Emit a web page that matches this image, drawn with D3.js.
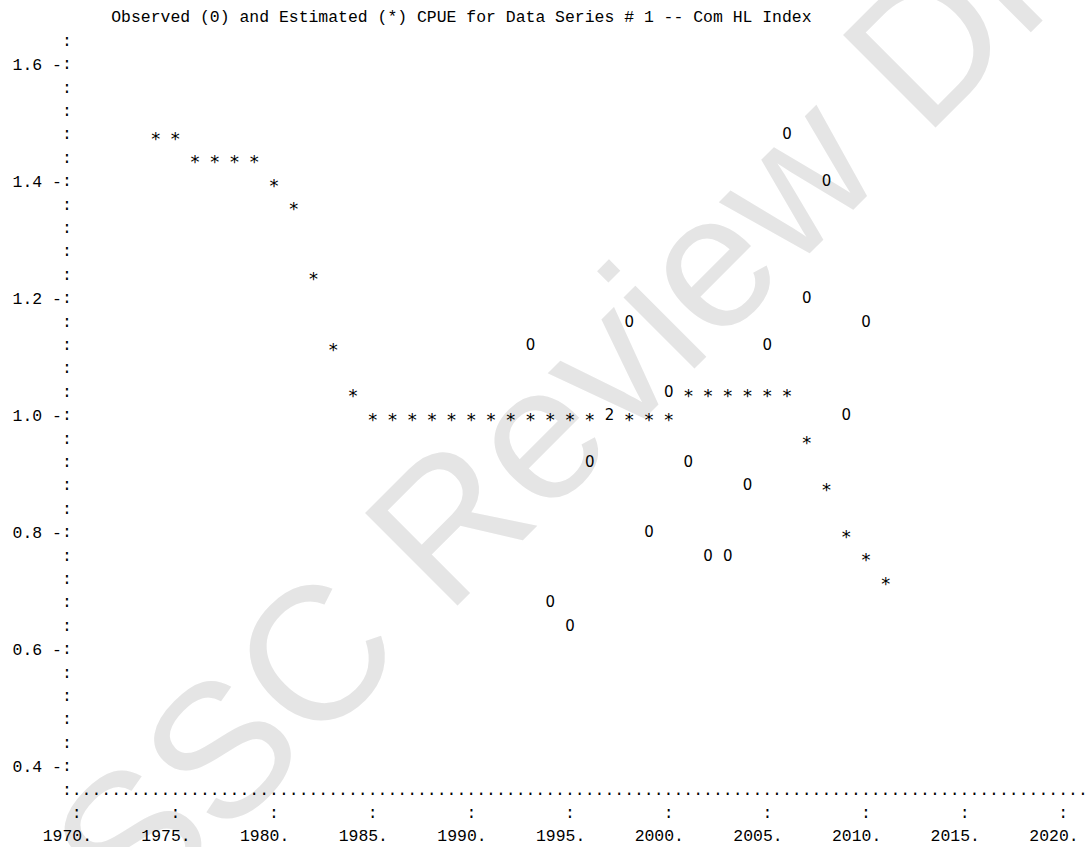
<!DOCTYPE html>
<html>
<head>
<meta charset="utf-8">
<script src="https://cdn.jsdelivr.net/npm/d3@7"></script>
<style>
  html, body { margin: 0; padding: 0; background: #fff; }
  svg { display: block; }
</style>
</head>
<body>
<script>
// ---------------- data ----------------
const title = "Observed (0) and Estimated (*) CPUE for Data Series # 1 -- Com HL Index";
const watermark = "SSC Review Draft";

const estYears = [1974, 1975, 1976, 1977, 1978, 1979, 1980, 1981, 1982, 1983, 1984,
  1985, 1986, 1987, 1988, 1989, 1990, 1991, 1992, 1993, 1994, 1995, 1996, 1997, 1998, 1999, 2000,
  2001, 2002, 2003, 2004, 2005, 2006, 2007, 2008, 2009, 2010, 2011];
const estValues = [1.48, 1.48, 1.44, 1.44, 1.44, 1.44, 1.40, 1.36, 1.24, 1.12, 1.04,
  1.00, 1.00, 1.00, 1.00, 1.00, 1.00, 1.00, 1.00, 1.00, 1.00, 1.00, 1.00, 1.00, 1.00, 1.00, 1.00,
  1.04, 1.04, 1.04, 1.04, 1.04, 1.04, 0.96, 0.88, 0.80, 0.76, 0.72];

const obsYears = [1993, 1994, 1995, 1996, 1997, 1998, 1999, 2000, 2001, 2002,
  2003, 2004, 2005, 2006, 2007, 2008, 2009, 2010];
const obsValues = [1.12, 0.68, 0.64, 0.92, 1.00, 1.16, 0.80, 1.04, 0.92, 0.76,
  0.76, 0.88, 1.12, 1.48, 1.20, 1.40, 1.00, 1.16];

const yTicks = [0.4, 0.6, 0.8, 1.0, 1.2, 1.4, 1.6];
const xTicks = [1970, 1975, 1980, 1985, 1990, 1995, 2000, 2005, 2010, 2015, 2020];
const rowStep = 0.04;   // value per text row

// ---------------- layout ----------------
const W = 1090, H = 847;
const mono = "'Liberation Mono', 'Courier New', monospace";
const markFont = "'DejaVu Sans', 'Noto Sans', sans-serif";

const x = d3.scaleLinear().domain([1970, 2020]).range([76.7, 1063.3]);
const y = d3.scaleLinear().domain([0.4, 1.6]).range([765.7, 63.7]);
const cw = (x(1971) - x(1970)) / 2;          // one character column
const fs = cw / 0.6;                          // monospace font size
const axisX = x(1970) - cw;                   // column of the ':' axis
const rowY = k => y(0.4 + k * rowStep);       // centre of text row k

const svg = d3.select("body").append("svg")
  .attr("width", W).attr("height", H);

// watermark
svg.append("text")
  .attr("transform", "translate(133,930) rotate(-45)")
  .attr("font-family", "'Liberation Sans', Arial, sans-serif")
  .attr("font-size", 190)
  .attr("fill", "#e5e5e5")
  .text(watermark);

const txt = svg.append("g")
  .attr("font-family", mono)
  .attr("font-size", fs)
  .attr("fill", "#000")
  .style("white-space", "pre");

// title
txt.append("text")
  .attr("x", axisX + 5 * cw - cw / 2)
  .attr("y", rowY(32))
  .attr("dy", "0.34em")
  .text(title);

// y-axis ':' column (rows 0..31)
const colonRows = d3.range(0, 32);
txt.selectAll("text.colon").data(colonRows).join("text")
  .attr("class", "colon")
  .attr("x", axisX).attr("text-anchor", "middle")
  .attr("y", k => rowY(k)).attr("dy", "0.34em")
  .text(":");

// x-axis dotted row
const nDots = Math.floor((W - axisX - cw / 2) / cw);
txt.append("text")
  .attr("x", axisX - cw / 2)
  .attr("y", rowY(-1)).attr("dy", "0.34em")
  .text(":" + ".".repeat(nDots));

// x tick ':' row
txt.selectAll("text.xtick").data(xTicks).join("text")
  .attr("class", "xtick")
  .attr("x", d => x(d)).attr("text-anchor", "middle")
  .attr("y", rowY(-2)).attr("dy", "0.34em")
  .text(":");

// y axis labels via d3 axis
const yAxis = d3.axisLeft(y).tickValues(yTicks)
  .tickFormat(d => d3.format(".1f")(d) + " -")
  .tickSize(0).tickPadding(0);
const gy = svg.append("g")
  .attr("transform", `translate(${axisX - cw / 2},0)`)
  .call(yAxis);
gy.select(".domain").remove();
gy.selectAll("text")
  .attr("font-family", mono).attr("font-size", fs)
  .attr("fill", "#000").attr("dy", "0.34em")
  .style("white-space", "pre");

// x axis labels via d3 axis
const xAxis = d3.axisBottom(x).tickValues(xTicks)
  .tickFormat(d => d + ".")
  .tickSize(0).tickPadding(0);
const gx = svg.append("g")
  .attr("transform", `translate(0,${rowY(-3)})`)
  .call(xAxis);
gx.select(".domain").remove();
gx.selectAll("text")
  .attr("font-family", mono).attr("font-size", fs)
  .attr("fill", "#000")
  .attr("text-anchor", "end")
  .attr("x", cw * 1.5)
  .attr("y", 0).attr("dy", "0.34em");

// ---------------- marks ----------------
const cells = new Map();
estYears.forEach((yr, i) => {
  const key = yr + "|" + estValues[i].toFixed(2);
  cells.set(key, { year: yr, value: estValues[i], ch: "*" });
});
obsYears.forEach((yr, i) => {
  const key = yr + "|" + obsValues[i].toFixed(2);
  if (cells.has(key)) cells.get(key).ch = "2";
  else cells.set(key, { year: yr, value: obsValues[i], ch: "0" });
});

svg.append("g")
  .attr("font-family", markFont)
  .attr("fill", "#000")
  .selectAll("text").data([...cells.values()]).join("text")
  .attr("x", d => x(d.year))
  .attr("y", d => y(d.value))
  .attr("text-anchor", "middle")
  .attr("font-size", d => d.ch === "*" ? 18 : 15)
  .attr("dy", d => d.ch === "*" ? "0.62em" : "0.36em")
  .text(d => d.ch);
</script>
</body>
</html>
